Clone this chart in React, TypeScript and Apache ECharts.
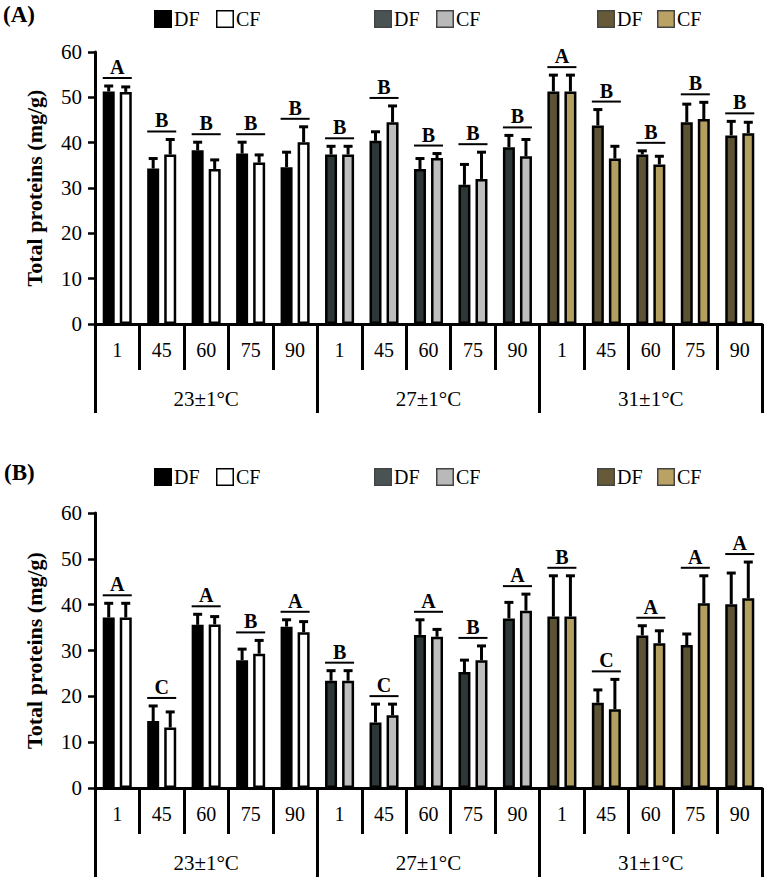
import React, { useEffect, useRef } from "react";
import * as echarts from "echarts";

const DAYS = ["1", "45", "60", "75", "90", "1", "45", "60", "75", "90", "1", "45", "60", "75", "90"];
const TEMPS = ["23±1°C", "27±1°C", "31±1°C"];
const Y_TICKS = [0, 10, 20, 30, 40, 50, 60];

// Panel A
const DF_A = [51.3, 34.3, 38.3, 37.6, 34.6, 37.4, 40.4, 34.2, 30.7, 39.0, 51.3, 43.8, 37.4, 44.5, 41.6];
const DF_A_SD = [1.2, 2.2, 1.8, 2.5, 3.3, 1.8, 2.0, 2.3, 4.5, 2.6, 3.6, 3.5, 0.8, 4.0, 3.1];
const CF_A = [51.2, 37.4, 34.2, 35.6, 40.1, 37.4, 44.5, 36.6, 32.0, 37.0, 51.3, 36.5, 35.2, 45.2, 42.1];
const CF_A_SD = [1.1, 3.3, 2.0, 1.7, 3.4, 1.8, 3.6, 1.0, 5.9, 3.7, 3.6, 2.7, 1.8, 3.7, 2.4];
const LETTERS_A = ["A", "B", "B", "B", "B", "B", "B", "B", "B", "B", "A", "B", "B", "B", "B"];

// Panel B
const DF_B = [37.2, 14.6, 35.6, 27.9, 35.2, 23.4, 14.3, 33.4, 25.3, 37.0, 37.4, 18.6, 33.3, 31.2, 40.1];
const DF_B_SD = [3.1, 3.3, 2.3, 2.4, 1.5, 2.2, 4.0, 3.3, 2.6, 3.5, 8.9, 2.8, 2.1, 2.4, 6.8];
const CF_B = [37.2, 13.2, 35.7, 29.3, 34.0, 23.4, 15.9, 33.0, 27.9, 38.7, 37.4, 17.2, 31.6, 40.3, 41.4];
const CF_B_SD = [3.1, 3.4, 1.7, 2.9, 2.3, 2.2, 2.4, 1.6, 3.1, 3.6, 8.9, 6.5, 2.7, 6.0, 7.9];
const LETTERS_B = ["A", "C", "A", "B", "A", "B", "C", "A", "B", "A", "B", "C", "A", "A", "A"];

const DF_COLORS = ["#000000", "#2e3737", "#5c5335"];
const CF_COLORS = ["#ffffff", "#bebebe", "#b39f5f"];
const LEG_DF = ["#000000", "#4a5353", "#665a38"];
const LEG_CF = ["#ffffff", "#b9b9b9", "#b9a263"];

const FONT = "'Liberation Serif', 'Times New Roman', serif";
const BAR_W = 12;
const GAP = 0.42;

function barData(vals: number[], colors: string[]) {
  return vals.map((v, i) => ({
    value: v,
    itemStyle: { color: colors[Math.floor(i / 5)] },
  }));
}

function makeRenderer(df: number[], dfSd: number[], cf: number[], cfSd: number[], letters: string[]) {
  return (params: any, api: any) => {
    const i = api.value(0);
    const c = api.coord([i, 0])[0];
    const off = (BAR_W + BAR_W * GAP) / 2;
    const xs = [c - off, c + off];
    const vals = [df[i], cf[i]];
    const sds = [dfSd[i], cfSd[i]];
    const children: any[] = [];
    let top = Infinity;
    for (let k = 0; k < 2; k++) {
      const y0 = api.coord([i, vals[k]])[1];
      const y1 = api.coord([i, vals[k] + sds[k]])[1];
      top = Math.min(top, y1);
      children.push({
        type: "line",
        shape: { x1: xs[k], y1: y0, x2: xs[k], y2: y1 },
        style: { stroke: "#000", lineWidth: 3 },
      });
      children.push({
        type: "line",
        shape: { x1: xs[k] - 4.5, y1: y1, x2: xs[k] + 4.5, y2: y1 },
        style: { stroke: "#000", lineWidth: 3 },
      });
    }
    const ly = top - 8;
    children.push({
      type: "line",
      shape: { x1: xs[0] - 6, y1: ly, x2: xs[1] + 6, y2: ly },
      style: { stroke: "#000", lineWidth: 2 },
    });
    children.push({
      type: "text",
      x: c,
      y: ly - 1,
      style: {
        text: letters[i],
        fontSize: 20,
        fontWeight: "bold",
        fontFamily: FONT,
        align: "center",
        verticalAlign: "bottom",
        fill: "#000",
      },
    });
    return { type: "group", children };
  };
}

function legend(yTop: number) {
  const items: any[] = [];
  const sqX = [154, 216, 374, 436, 597, 657];
  const labels = ["DF", "CF", "DF", "CF", "DF", "CF"];
  for (let k = 0; k < 6; k++) {
    const g = Math.floor(k / 2);
    const isDF = k % 2 === 0;
    const fill = isDF ? LEG_DF[g] : LEG_CF[g];
    const stroke = g === 0 ? "#000" : "#444";
    items.push({
      type: "rect",
      shape: { x: sqX[k] + 0.75, y: yTop + 0.75, width: 16.5, height: 16.5 },
      style: { fill, stroke, lineWidth: 1.5 },
    });
    items.push({
      type: "text",
      x: sqX[k] + 20,
      y: yTop + 9,
      style: {
        text: labels[k],
        fontSize: 20,
        fontFamily: FONT,
        fill: "#000",
        verticalAlign: "middle",
      },
    });
  }
  return items;
}

export default function App() {
  const ref = useRef<HTMLDivElement>(null);
  useEffect(() => {
    if (!ref.current) return;
    const chart = echarts.init(ref.current, undefined, { renderer: "svg" });
    const grids = [
      { left: 95, top: 52, width: 667, height: 272 },
      { left: 95, top: 513, width: 667, height: 275 },
    ];
    const xAxes: any[] = [];
    const yAxes: any[] = [];
    grids.forEach((_, gi) => {
      xAxes.push({
        type: "category",
        gridIndex: gi,
        data: DAYS,
        position: "bottom",
        axisLine: { show: true, lineStyle: { color: "#000", width: 3 } },
        axisTick: { show: true, interval: 0, length: 46, lineStyle: { color: "#000", width: 3 } },
        axisLabel: { interval: 0, margin: 16, color: "#000", fontSize: 20, fontFamily: FONT },
      });
      xAxes.push({
        type: "category",
        gridIndex: gi,
        data: TEMPS,
        position: "bottom",
        axisLine: { show: false },
        axisTick: { show: true, interval: 0, length: 89, lineStyle: { color: "#000", width: 3 } },
        axisLabel: { interval: 0, margin: 64, color: "#000", fontSize: 21, fontFamily: FONT },
      });
      yAxes.push({
        type: "value",
        gridIndex: gi,
        min: 0,
        max: 60,
        interval: 10,
        name: "Total proteins (mg/g)",
        nameLocation: "middle",
        nameRotate: 90,
        nameGap: 50,
        nameTextStyle: { fontSize: 22, fontWeight: "bold", fontFamily: FONT, color: "#000" },
        axisLine: { show: true, lineStyle: { color: "#000", width: 3 } },
        axisTick: { show: true, length: 7, lineStyle: { color: "#000", width: 2.5 } },
        axisLabel: { margin: 13, color: "#000", fontSize: 21, fontFamily: FONT },
        splitLine: { show: false },
      });
    });
    const panels = [
      { df: DF_A, dfSd: DF_A_SD, cf: CF_A, cfSd: CF_A_SD, letters: LETTERS_A },
      { df: DF_B, dfSd: DF_B_SD, cf: CF_B, cfSd: CF_B_SD, letters: LETTERS_B },
    ];
    const series: any[] = [];
    panels.forEach((p, gi) => {
      const xi = gi * 2;
      series.push({
        type: "bar",
        xAxisIndex: xi,
        yAxisIndex: gi,
        data: barData(p.df, DF_COLORS),
        barWidth: BAR_W,
        barGap: GAP * 100 + "%",
        itemStyle: { borderColor: "#000", borderWidth: 2.5 },
      });
      series.push({
        type: "bar",
        xAxisIndex: xi,
        yAxisIndex: gi,
        data: barData(p.cf, CF_COLORS),
        barWidth: BAR_W,
        barGap: GAP * 100 + "%",
        itemStyle: { borderColor: "#000", borderWidth: 2.5 },
      });
      series.push({
        type: "custom",
        xAxisIndex: xi,
        yAxisIndex: gi,
        coordinateSystem: "cartesian2d",
        data: DAYS.map((_, i) => [i, 0]),
        encode: { x: 0, y: 1 },
        renderItem: makeRenderer(p.df, p.dfSd, p.cf, p.cfSd, p.letters),
        z: 5,
        clip: false,
      });
    });
    chart.setOption({
      animation: false,
      backgroundColor: "#fff",
      grid: grids,
      xAxis: xAxes,
      yAxis: yAxes,
      series,
      graphic: [
        {
          type: "text",
          left: 3,
          top: 3,
          style: { text: "(A)", fontSize: 23, fontWeight: "bold", fontFamily: FONT, fill: "#000" },
        },
        {
          type: "text",
          left: 4,
          top: 461,
          style: { text: "(B)", fontSize: 23, fontWeight: "bold", fontFamily: FONT, fill: "#000" },
        },
        ...legend(10),
        ...legend(468),
      ],
    });
    return () => chart.dispose();
  }, []);
  return (
    <div
      ref={ref}
      style={{ position: "fixed", left: 0, top: 0, width: 767, height: 880, background: "#fff" }}
    />
  );
}
